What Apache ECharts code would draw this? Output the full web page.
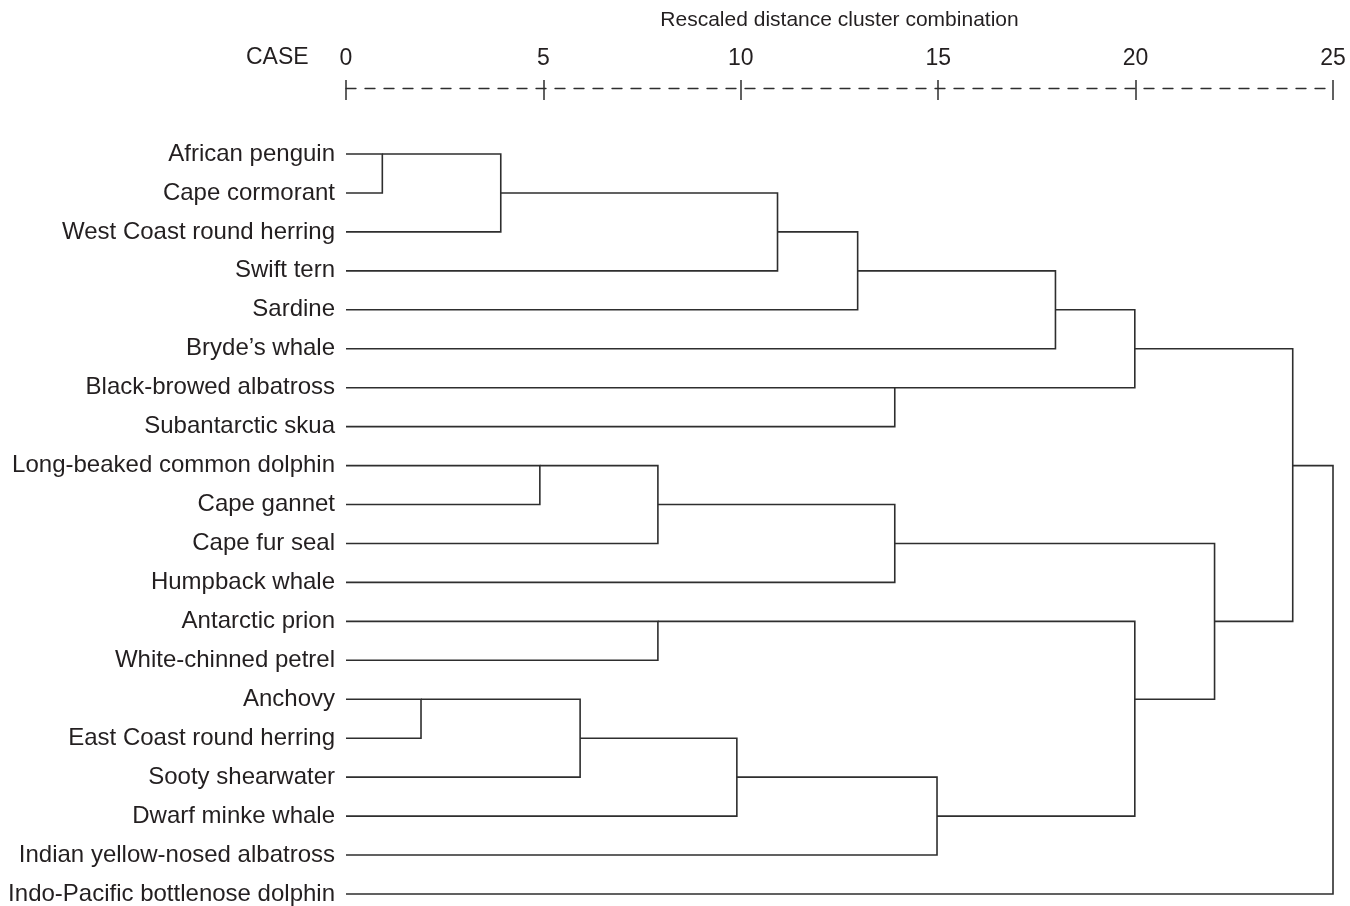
<!DOCTYPE html>
<html>
<head>
<meta charset="utf-8">
<script src="https://cdn.jsdelivr.net/npm/echarts@6/dist/echarts.min.js"></script>
<style>html,body{margin:0;padding:0;background:#fff}#c{width:1350px;height:906px}</style>
</head>
<body>
<div id="c"></div>
<script>
// Leaves (top to bottom)
var leaves = [
  'African penguin','Cape cormorant','West Coast round herring','Swift tern','Sardine',
  "Bryde\u2019s whale",'Black-browed albatross','Subantarctic skua','Long-beaked common dolphin','Cape gannet',
  'Cape fur seal','Humpback whale','Antarctic prion','White-chinned petrel','Anchovy',
  'East Coast round herring','Sooty shearwater','Dwarf minke whale','Indian yellow-nosed albatross','Indo-Pacific bottlenose dolphin'
];
// Agglomeration schedule: cluster ids 0..19 are leaves, each merge creates id 20, 21, ...
var mergeA = [0, 20, 21, 22, 23, 6, 24, 8, 27, 28, 12, 14, 31, 32, 33, 30, 29, 26, 37];
var mergeB = [1, 2, 3, 4, 5, 7, 25, 9, 10, 11, 13, 15, 16, 17, 18, 34, 35, 36, 19];
var mergeDist = [0.92, 3.92, 10.93, 12.96, 17.97, 13.9, 19.98, 4.91, 7.9, 13.9, 7.9, 1.9, 5.93, 9.9, 14.97, 19.98, 22.0, 23.98, 25];
var xTicks = [0, 5, 10, 15, 20, 25];

// derive node positions (SPSS style: row = floor of midpoint of children rows)
var nodeRow = leaves.map(function (_, i) { return i; });
var nodeH = leaves.map(function () { return 0; });
var segs = [];
for (var k = 0; k < mergeA.length; k++) {
  var a = mergeA[k], b = mergeB[k], h = mergeDist[k];
  segs.push([nodeH[a], nodeRow[a], nodeH[b], nodeRow[b], h]);
  nodeRow.push(Math.floor((nodeRow[a] + nodeRow[b]) / 2));
  nodeH.push(h);
}

var chart = echarts.init(document.getElementById('c'));
var txt = '#231f20';
var lineCol = '#2e2e2e';
var ff = 'Liberation Sans, Arial, Helvetica, sans-serif';
chart.setOption({
  animation: false,
  grid: { left: 346, right: 17, top: 154, bottom: 9, containLabel: false },
  xAxis: [{
    type: 'value', position: 'top', offset: 66,
    min: xTicks[0], max: xTicks[xTicks.length - 1], interval: 5,
    name: 'Rescaled distance cluster combination', nameLocation: 'middle', nameGap: 57,
    nameTextStyle: { fontFamily: ff, fontSize: 21, color: txt },
    axisLine: { show: true, lineStyle: { color: lineCol, width: 1.3, type: [10, 9] } },
    axisTick: { show: true, length: 8, lineStyle: { color: lineCol, width: 1.5 } },
    axisLabel: { margin: 18, fontFamily: ff, fontSize: 23, color: txt },
    splitLine: { show: false }
  }, {
    type: 'value', position: 'top', offset: 66,
    min: xTicks[0], max: xTicks[xTicks.length - 1], interval: 5,
    axisLine: { show: false },
    axisTick: { show: true, inside: true, length: 12, lineStyle: { color: lineCol, width: 1.5 } },
    axisLabel: { show: false },
    splitLine: { show: false }
  }],
  yAxis: {
    type: 'category', data: leaves, inverse: true, boundaryGap: false,
    axisLine: { show: false }, axisTick: { show: false }, splitLine: { show: false },
    axisLabel: { margin: 11, fontFamily: ff, fontSize: 24, color: txt, interval: 0 }
  },
  graphic: [{
    type: 'text', left: 246, top: 46,
    style: { text: 'CASE', font: '23px "Liberation Sans", Arial', fill: txt }
  }],
  series: [{
    type: 'custom',
    xAxisIndex: 0,
    data: segs,
    encode: { x: [0, 2, 4], y: [1, 3] },
    clip: false,
    renderItem: function (params, api) {
      var p1 = api.coord([api.value(0), api.value(1)]);
      var p2 = api.coord([api.value(4), api.value(1)]);
      var p3 = api.coord([api.value(4), api.value(3)]);
      var p4 = api.coord([api.value(2), api.value(3)]);
      return {
        type: 'polyline',
        shape: { points: [p1, p2, p3, p4] },
        style: { stroke: lineCol, lineWidth: 1.6, fill: null }
      };
    }
  }]
});
</script>
</body>
</html>
